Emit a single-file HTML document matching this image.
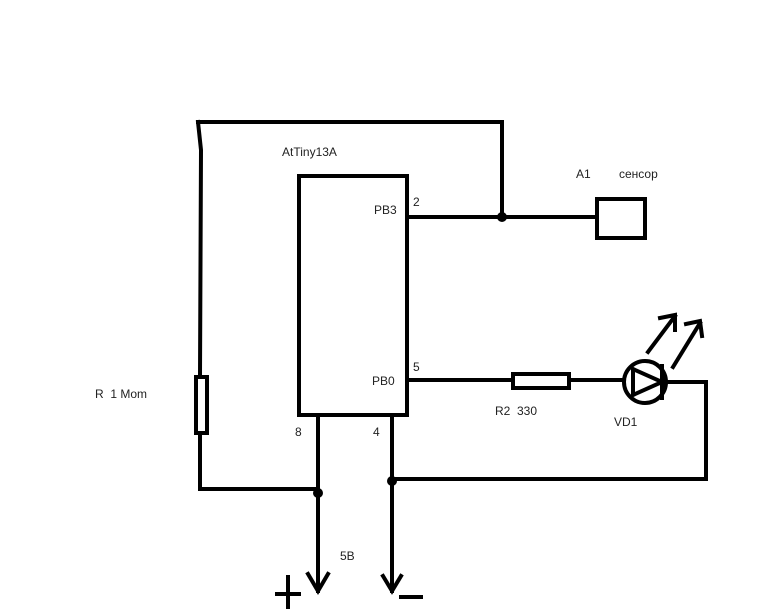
<!DOCTYPE html>
<html><head><meta charset="utf-8"><style>
body{margin:0;background:#fff;}
svg{display:block}
text{font-family:"Liberation Sans","DejaVu Sans",sans-serif;font-size:12px;fill:#222}
</style></head><body>
<svg width="768" height="614" viewBox="0 0 768 614" xmlns="http://www.w3.org/2000/svg">
<g fill="none" stroke="#000" stroke-width="4" stroke-linecap="square">
<!-- top loop -->
<polyline points="198,122 502,122 502,217"/>
<polyline points="198,122 201,150 200,376"/>
<rect x="196" y="377" width="11" height="56"/>
<polyline points="200,433 200,489 318,489"/>
<!-- chip -->
<rect x="299" y="176" width="108" height="239"/>
<!-- PB3 -->
<line x1="409" y1="217" x2="596" y2="217"/>
<rect x="597" y="199" width="48" height="39"/>
<!-- PB0 -->
<line x1="409" y1="380" x2="512" y2="380"/>
<rect x="513" y="374" width="56" height="14"/>
<line x1="569" y1="380" x2="623" y2="380"/>
<circle cx="645" cy="382" r="21"/>
<polygon points="633,369 633,395 662,382" />
<line x1="662" y1="366" x2="662" y2="398"/>
<polyline points="667,382 706,382 706,479 392,479"/>
<!-- LED arrows -->
<line x1="648" y1="352" x2="675" y2="316"/>
<polyline points="660,318 675,315 675,330"/>
<line x1="673" y1="367" x2="700" y2="323"/>
<polyline points="686,324 700,321 702,336"/>
<!-- power -->
<line x1="318" y1="417" x2="318" y2="591"/>
<polyline points="308,574 318,591 328,574"/>
<line x1="392" y1="417" x2="392" y2="591"/>
<polyline points="383,576 392,591 401,576"/>
<line x1="277" y1="594" x2="299" y2="594"/>
<line x1="288" y1="577" x2="288" y2="607"/>
<line x1="401" y1="597" x2="421" y2="597"/>
</g>
<g fill="#000">
<circle cx="502" cy="217" r="5"/>
<circle cx="318" cy="493" r="5"/>
<circle cx="392" cy="481" r="5"/>
</g>
<text x="282" y="156">AtTiny13A</text>
<text x="413" y="206">2</text>
<text x="374" y="214">PB3</text>
<text x="413" y="371">5</text>
<text x="372" y="385">PB0</text>
<text x="495" y="415">R2&#160;&#160;330</text>
<text x="614" y="426">VD1</text>
<text x="295" y="436">8</text>
<text x="373" y="436">4</text>
<text x="340" y="560">5B</text>
<text x="576" y="178">A1</text>
<text x="619" y="178">сенсор</text>
<text x="95" y="398">R&#160;&#160;1 Mom</text>
</svg>
</body></html>
